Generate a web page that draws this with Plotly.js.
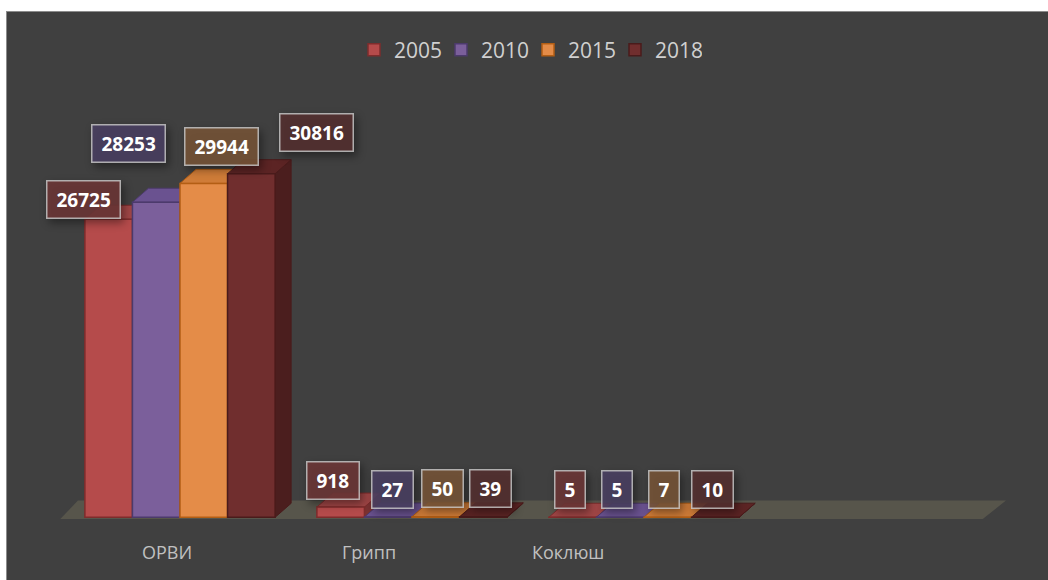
<!DOCTYPE html>
<html>
<head>
<meta charset="utf-8">
<script src="https://cdn.plot.ly/plotly-3.0.1.min.js"></script>
<style>
html,body{margin:0;padding:0;background:#ffffff;overflow:hidden;}
#wrap{position:absolute;left:6px;top:11px;width:1041px;height:568px;border-top:1px solid #8c8c8c;border-left:1px solid #8c8c8c;background:#404040;}
#chart{position:absolute;left:0;top:0;width:1041px;height:568px;}
.annotation rect.bg{filter:drop-shadow(3px 4px 4px rgba(0,0,0,0.45));}
</style>
</head>
<body>
<div id="wrap"><div id="chart"></div></div>
<script>
// ---- data ----
const categories = ['ОРВИ', 'Грипп', 'Коклюш'];
const years = ['2005', '2010', '2015', '2018'];
const v2005 = [26725, 918, 5];
const v2010 = [28253, 27, 5];
const v2015 = [29944, 50, 7];
const v2018 = [30816, 39, 10];
const series = [v2005, v2010, v2015, v2018];

// ---- styles ----
const frontColor = ['#b54b4b', '#7b5f9b', '#e48c48', '#702e2e'];
const edgeColor  = ['#7e2c2c', '#4c3a6c', '#b35e14', '#4a1b1b'];
const topColor   = ['#a04646', '#6a5290', '#cf7c38', '#5c2424'];
const sideColor  = ['#7c3232', '#54427a', '#a8652a', '#4b1e1e'];
const boxBg      = ['rgba(108,55,55,0.88)', 'rgba(74,64,98,0.88)', 'rgba(118,84,56,0.88)', 'rgba(84,48,48,0.88)'];
// label offsets in px [series][category] : [xshift, yshift]
const labelShift = [
  [[-25, 20], [-8, 27], [-3, 28]],
  [[-28, 59], [4, 28], [-3, 28]],
  [[18, 37], [7, 28], [-4, 28]],
  [[65, 41], [7, 28], [-3, 28]]
];
// category label offsets (perspective of the front floor edge), px
const catShift = [-13, -43, -76];

const bargap = 0.18;
const barW = (1 - bargap) / years.length;
const yRange = [-600, 35000];
const depthX = 16 / 232;      // depth offset in x units (~16px)
const depthY = 14 / 0.011152; // depth offset in y units (~14px)
const yPaper = v => (v - yRange[0]) / (yRange[1] - yRange[0]);

const xIdx = categories.map((c, i) => i);

const traces = years.map((y, k) => ({
  type: 'bar',
  name: y,
  x: xIdx,
  y: series[k],
  marker: {color: frontColor[k], line: {color: edgeColor[k], width: 1.5}},
  hoverinfo: 'skip'
}));

const shapes = [];
// floor
const fb = yPaper(-160), ft = yPaper(1500);
shapes.push({
  type: 'path', xref: 'paper', yref: 'paper', layer: 'below',
  path: `M -0.004,${fb} L 0.990,${fb} L 1.015,${ft} L 0.015,${ft} Z`,
  fillcolor: '#57554b', line: {width: 0}
});
years.forEach((y, k) => {
  const off = (k - (years.length - 1) / 2) * barW;
  series[k].forEach((v, j) => {
    const x0 = j + off - barW / 2, x1 = j + off + barW / 2;
    shapes.push({
      type: 'path', xref: 'x', yref: 'y', layer: 'below',
      path: `M ${x1},0 L ${x1 + depthX},${depthY} L ${x1 + depthX},${v + depthY} L ${x1},${v} Z`,
      fillcolor: sideColor[k], line: {color: edgeColor[k], width: 1}
    });
    shapes.push({
      type: 'path', xref: 'x', yref: 'y', layer: 'below',
      path: `M ${x0},${v} L ${x0 + depthX},${v + depthY} L ${x1 + depthX},${v + depthY} L ${x1},${v} Z`,
      fillcolor: topColor[k], line: {color: edgeColor[k], width: 1}
    });
  });
});

const annotations = [];
years.forEach((y, k) => {
  const off = (k - (years.length - 1) / 2) * barW;
  series[k].forEach((v, j) => {
    annotations.push({
      x: j + off, y: v, xref: 'x', yref: 'y',
      text: String(v), showarrow: false,
      xshift: labelShift[k][j][0], yshift: labelShift[k][j][1],
      font: {family: 'Open Sans', size: 19, color: '#ffffff', weight: 'bold'},
      bgcolor: boxBg[k], bordercolor: 'rgba(205,205,205,0.8)', borderwidth: 1.5,
      borderpad: 9, height: 18
    });
  });
});
categories.forEach((c, j) => {
  annotations.push({
    x: j, y: -0.0705, xref: 'x', yref: 'paper', yanchor: 'middle',
    xshift: catShift[j], text: c, showarrow: false,
    font: {family: 'Open Sans', size: 18, color: '#c0c0c0'}
  });
});

const layout = {
  width: 1041, height: 568,
  margin: {l: 57, r: 56, t: 115, b: 56},
  paper_bgcolor: '#404040', plot_bgcolor: 'rgba(0,0,0,0)',
  barmode: 'group', bargap: bargap, bargroupgap: 0,
  showlegend: true,
  legend: {orientation: 'h', x: 0.5, xanchor: 'center', y: 1.194, yanchor: 'middle',
           entrywidth: 42, entrywidthmode: 'pixels',
           font: {family: 'Open Sans', size: 21, color: '#d0d0d0'}, bgcolor: 'rgba(0,0,0,0)'},
  xaxis: {range: [-0.5, 3.5], showticklabels: false, showgrid: false, zeroline: false,
          showline: false, ticks: '', fixedrange: true},
  yaxis: {range: yRange, visible: false, showgrid: false, zeroline: false, fixedrange: true},
  shapes: shapes,
  annotations: annotations
};

Plotly.newPlot('chart', traces, layout, {displayModeBar: false, staticPlot: true});
</script>
</body>
</html>
